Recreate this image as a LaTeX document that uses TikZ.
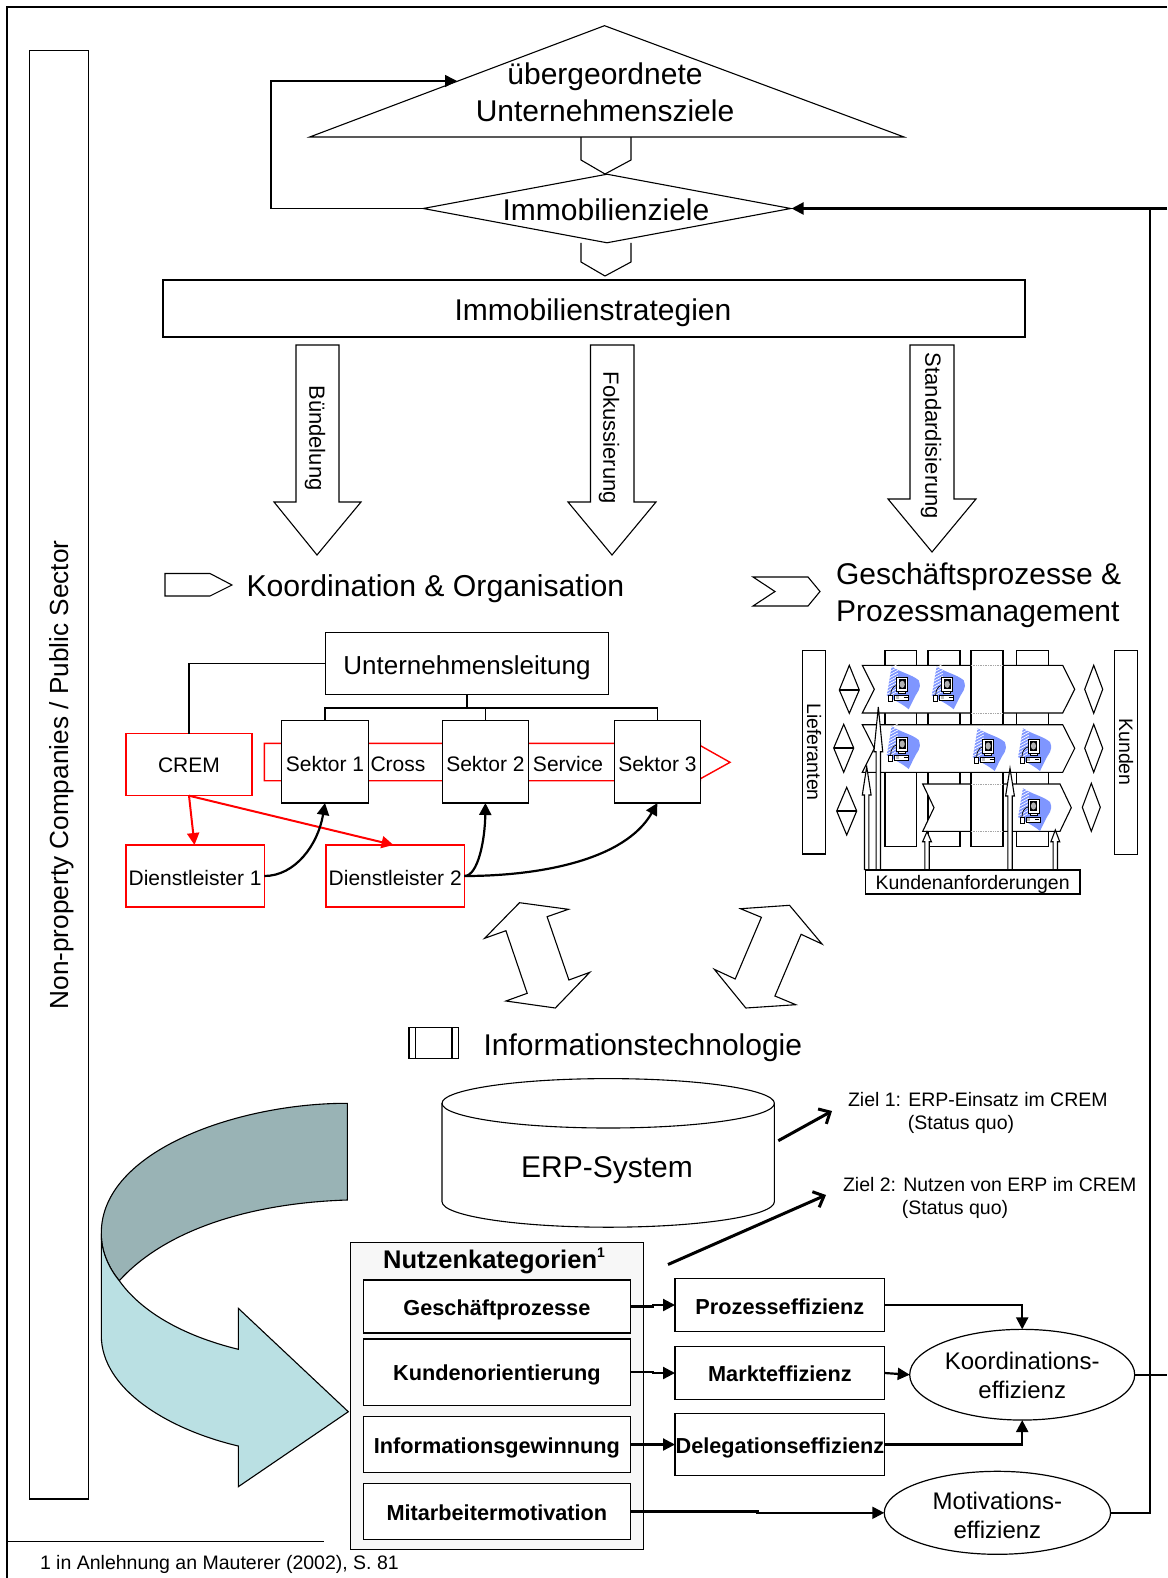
\documentclass[tikz,border=0pt]{standalone}
\usepackage{fontspec}
\setmainfont{Liberation Sans}
\usetikzlibrary{arrows.meta,shapes.geometric,calc}
\definecolor{tealdark}{HTML}{99B3B5}
\definecolor{teallight}{HTML}{BAE0E3}
\definecolor{blobblue}{HTML}{7F96FF}
\definecolor{panelgrey}{HTML}{F7F7F7}
\newcommand\fs[1]{\fontsize{#1}{36}\selectfont}
\newcommand\dn[2]{\raisebox{-#1pt}[\height][\depth]{#2}}
\newcommand\bx[7]{%
  \pgfmathsetmacro\bxw{#4-(#2)}\pgfmathsetmacro\bxh{#5-(#3)}%
  \pgfmathsetmacro\bxx{(#2+#4)/2}\pgfmathsetmacro\bxy{(#3+#5)/2}%
  \node[boxn,#6,minimum width=\bxw pt,minimum height=\bxh pt] (#1) at (\bxx,\bxy) {#7};}
\newcommand\hollow[3]{% x, tip y, head base y
  \draw[thinl,fill=white] ({#1-2.2},870) -- ({#1-2.2},#3) -- ({#1-4.4},#3) -- (#1,#2) -- ({#1+4.4},#3) -- ({#1+2.2},#3) -- ({#1+2.2},870);}
\newcommand\compicon[2]{%
  \begin{scope}[shift={(#1,#2)}]
    \fill[blobblue] (-10,-22) .. controls (-2,-16) and (10,-14) .. (17,-8) .. controls (19,-3) and (18,0) .. (17,2)
      .. controls (13,8) and (10,15) .. (7,21) .. controls (0,15) and (-8,12) .. (-15,7) .. controls (-13,-3) and (-12,-12) .. cycle;
    \foreach \k in {-21,-18,...,6} {\draw[white,line width=.7pt] (-15,\k+3) -- (-4,\k-3);}
    \draw[black,line width=.7pt] (-5,-3) .. controls (-9,-2) and (-11,2) .. (-11,7);
    \draw[black,fill=white,line width=.7pt] (-3,3) rectangle (4,5);
    \draw[black,fill=white,line width=.9pt] (-5,-11) rectangle (6,3);
    \fill[black] (-3,-9) rectangle (4,1);
    \fill[gray!60] (.5,-4) ellipse (2.6 and 3.6);
    \draw[black,fill=white,line width=.7pt] (-7,7) rectangle (7,12);
    \fill[gray!50] (-6,8) rectangle (-3,11);
    \draw[black,line width=1pt] (2,9.5) -- (6,9.5);
    \draw[black,fill=white,line width=.7pt] (-13,7.5) rectangle (-9,13);
  \end{scope}}
\tikzset{
  thinl/.style={line width=1.1pt},
  boxn/.style={draw,fill=white,line width=1.2pt,inner sep=0pt,outer sep=0pt,align=center},
  redbox/.style={draw=red,line width=1.4pt},
  plain/.style={inner sep=0pt,outer sep=0pt,align=center},
  conn/.style={line width=2.2pt},
  orgl/.style={line width=1.4pt},
  blacktip/.style={-{Triangle[length=12pt,width=12pt]}},
  redtip/.style={-{Triangle[length=12pt,width=12pt]},red,line width=2pt},
  barb/.style={-{Straight Barb[length=9pt,width=17pt]},line width=3pt},
}
\begin{document}
\begin{tikzpicture}[x=1pt,y=-1pt,line join=miter]
\useasboundingbox (0,0) rectangle (1167,1578);
% frame
\coordinate (fTR) at (1167,7);
\coordinate (fBL) at (7,1578);
\draw[line width=2pt] (fTR) -- (7,7) -- (fBL);
\coordinate (fnA) at (7,1541.5);
\coordinate (fnB) at (324,1541.5);
\draw[line width=1.8pt] (fnA) -- (fnB);
\node[plain,anchor=west,font=\fs{19.5}] (fn) at (40,1564) {1 in Anlehnung an Mauterer (2002), S. 81};
% sidebar
\bx{side}{29.3}{50.5}{88.5}{1499}{}{}
\node[plain,rotate=90,font=\fs{26.2}] (sidet) at (62,775) {Non-property Companies / Public Sector};
% pyramid
\draw[thinl,fill=white] (581,137) -- (581,160) -- (605,174) -- (631,160) -- (631,137);
\draw[thinl,fill=white] (581,243) -- (581,262) -- (605,276) -- (631,262) -- (631,243);
\draw[thinl,fill=white] (604.5,25.7) -- (904,137) -- (309.7,137) -- cycle;
\coordinate (triL) at (457,81);
\node[plain,font={\fontsize{30}{37}\selectfont}] (tritxt) at (605,92) {übergeordnete\\Unternehmensziele};
\node[diamond,draw,thinl,fill=white,inner sep=0pt,aspect=5.33,minimum width=368pt,minimum height=69pt] (ziele) at (607,208.5) {};
\node[plain,font=\fs{30}] (zielet) at (606,210) {Immobilienziele};
\coordinate (loopB) at (271,208.5);
\coordinate (loopT) at (271,81);
\draw[orgl,blacktip] (ziele.west) -- (loopB) -- (loopT) -- (triL);
\bx{strat}{163}{280}{1025}{337}{thinl}{}
\node[plain,font=\fs{30}] (stratt) at (593,313) {Immobilienstrategien};
% big arrows
\draw[thinl,fill=white] (296,345) -- (339,345) -- (339,502) -- (361,502) -- (317,555) -- (274,502) -- (296,502) -- cycle;
\draw[thinl,fill=white] (590.5,345) -- (634,345) -- (634,502) -- (656,502) -- (612,555) -- (568,502) -- (590.5,502) -- cycle;
\draw[thinl,fill=white] (910,345) -- (954,345) -- (954,499) -- (976,499) -- (932,552) -- (888,499) -- (910,499) -- cycle;
\node[plain,rotate=-90,font=\fs{22}] (t1) at (315,438) {Bündelung};
\node[plain,rotate=-90,font=\fs{22}] (t2) at (609,438) {Fokussierung};
\node[plain,rotate=-90,font=\fs{22}] (t3) at (931,436) {Standardisierung};
% headings
\draw[thinl] (165,573.5) -- (210,573.5) -- (232,585) -- (210,596) -- (165,596) -- cycle;
\node[plain,anchor=west,font=\fs{30.2}] (koh) at (246.5,589) {Koordination \& Organisation};
\draw[thinl] (753,577) -- (808,577) -- (820,591.5) -- (808,606) -- (753,606) -- (775,591.5) -- cycle;
\node[plain,anchor=west,align=left,font={\fontsize{30}{37}\selectfont}] (gph) at (836,595.5) {Geschäftsprozesse \&\\Prozessmanagement};
% organisation
\draw[red,line width=1.4pt,fill=white] (264.3,743.3) -- (700.5,743.3) -- (700.5,745.7) -- (730,762.3) -- (700.5,778.7) -- (700.5,780.7) -- (264.3,780.7) -- cycle;
\node[plain,font=\fs{21}] (cross) at (398,764) {Cross};
\node[plain,font=\fs{21}] (serv) at (568,764) {Service};
\bx{ul}{325.2}{632.7}{608.7}{694.7}{font=\fs{26}}{\dn{4}{Unternehmensleitung}}
\bx{crem}{126}{733.7}{252}{795.7}{redbox,font=\fs{21}}{\dn{1}{CREM}}
\bx{s1}{281.7}{720.7}{368.3}{803}{font=\fs{21}}{\dn{2}{Sektor 1}}
\bx{s2}{442.3}{720.7}{528.5}{803}{font=\fs{21}}{\dn{2}{Sektor 2}}
\bx{s3}{614.3}{720.7}{700.5}{803}{font=\fs{21}}{\dn{2}{Sektor 3}}
\bx{d1}{126}{845}{264.3}{907}{redbox,font=\fs{21}}{\dn{2}{Dienstleister 1}}
\bx{d2}{326}{845}{464.4}{907}{redbox,font=\fs{21}}{\dn{2}{Dienstleister 2}}
\coordinate (bus) at (466.8,708);
\draw[orgl] (crem.north) |- (ul.west);
\draw[orgl] (ul.south -| bus) -- (bus);
\draw[orgl] (s1.north) -- (s1.north |- bus) -- (s3.north |- bus) -- (s3.north);
\draw[orgl] (s2.north) -- (s2.north |- bus);
\draw[redtip] (crem.south) -- (194.5,845);
\draw[redtip] (crem.south) -- (393.5,845);
\draw[conn,blacktip] (d1.east) .. controls (295,876) and (318,845) .. (s1.south);
\draw[conn,blacktip] (d2.east) .. controls (478,876) and (485,840) .. (s2.south);
\draw[conn,blacktip] (d2.east) .. controls (540,876) and (625,860) .. (s3.south);
% process map
\bx{lief}{802.3}{650.3}{825.7}{854}{}{}
\node[plain,rotate=-90,font=\fs{19.5}] (lieft) at (814,752) {Lieferanten};
\bx{kund}{1114.3}{650.3}{1137.3}{854.7}{}{}
\node[plain,rotate=-90,font=\fs{19.5}] (kundt) at (1126,752) {Kunden};
\bx{c1}{885}{650.3}{916.7}{846.7}{thinl}{}
\bx{c2}{928}{650.3}{960}{846.7}{thinl}{}
\bx{c4}{1016.7}{650.3}{1048.7}{846.7}{thinl}{}
\draw[thinl,fill=white] (862.3,665.3) -- (1062.7,665.3) -- (1074.7,689.3) -- (1062.7,713) -- (862.3,713) -- (874.3,689.3) -- cycle;
\draw[thinl,fill=white] (922.7,784) -- (1060,784) -- (1071.3,807.7) -- (1060,831.3) -- (922.7,831.3) -- (934,807.7) -- cycle;
\bx{c3}{971}{650.3}{1003}{846.7}{thinl}{}
\foreach \yy in {665.3,713,784,831.3} {\draw[gray!70,densely dotted,line width=.7pt] (971,\yy) -- (1003,\yy);}
\draw[thinl,fill=white] (862.3,724.7) -- (1062.7,724.7) -- (1074.7,748.3) -- (1062.7,772.3) -- (862.3,772.3) -- (874.3,748.3) -- cycle;
% diamonds
\draw[thinl,fill=white] (849.3,665.3) -- (859.3,690) -- (849.3,713.3) -- (839.3,690) -- cycle;
\draw[line width=1.4pt] (839.3,690) -- (859.3,690);
\draw[thinl,fill=white] (843.7,724.3) -- (853.7,748) -- (843.7,772.3) -- (833.7,748) -- cycle;
\draw[line width=1.4pt] (833.7,748) -- (853.7,748);
\draw[thinl,fill=white] (846.7,787.3) -- (856.7,811) -- (846.7,835) -- (836.7,811) -- cycle;
\draw[line width=1.4pt] (836.7,811) -- (856.7,811);
\draw[thinl,fill=white] (1093.7,665.3) -- (1102.7,689.3) -- (1093.7,713.3) -- (1084.7,689.3) -- cycle;
\draw[thinl,fill=white] (1093.7,724.3) -- (1102.7,748.3) -- (1093.7,772.3) -- (1084.7,748.3) -- cycle;
\draw[thinl,fill=white] (1091.3,783.3) -- (1100.3,807.3) -- (1091.3,831.3) -- (1082.3,807.3) -- cycle;
% icons
\compicon{901.7}{688.3}
\compicon{946.7}{688.3}
\compicon{901.7}{748}
\compicon{987.7}{750}
\compicon{1033}{750}
\compicon{1033}{810}
% requirement arrows
\hollow{866.7}{766.7}{795}
\hollow{878.3}{707}{751.7}
\hollow{927}{831.7}{841.7}
\hollow{1010}{768.3}{796}
\hollow{1055.3}{830}{841.7}
\bx{req}{865.3}{870}{1080}{894}{font=\fs{19.5}}{\dn{2}{Kundenanforderungen}}
% double arrows
\draw[thinl,fill=white] (519.5,902.7) -- (568.4,909.3) -- (547.1,916.7) -- (568.9,980) -- (589.8,972.3) -- (555.3,1008) -- (505.9,1001) -- (527.2,993.3) -- (505.9,930.7) -- (484.6,938.3) -- cycle;
\draw[thinl,fill=white] (789.5,905.3) -- (822,944) -- (801.1,934.3) -- (774.9,996) -- (795.8,1004.7) -- (745.8,1008) -- (714.3,969.3) -- (735.2,979) -- (761.4,917.3) -- (740.5,908.7) -- cycle;
% IT
\draw[thinl] (409,1027.7) rectangle (458.4,1058.3);
\draw[thinl] (415.7,1027.7) -- (415.7,1058.3) (452,1027.7) -- (452,1058.3);
\node[plain,anchor=west,font=\fs{30}] (ith) at (483.6,1048) {Informationstechnologie};
% cylinder
\draw[thinl,fill=white] (442,1103.3) -- (442,1201.7) arc[start angle=180,end angle=0,x radius=166.2,y radius=25.5] -- (774.4,1103.3) arc[start angle=0,end angle=-180,x radius=166.2,y radius=24.7] -- cycle;
\draw[thinl] (442,1103.3) arc[start angle=180,end angle=0,x radius=166.2,y radius=24.7];
\node[plain,font=\fs{30}] (erp) at (607,1170) {ERP-System};
% goals
\node[plain,anchor=west,font=\fs{19.5}] (z1a) at (848,1100) {Ziel 1: ERP-Einsatz im CREM};
\node[plain,font=\fs{19.5}] (z1b) at (961,1124) {(Status quo)};
\node[plain,anchor=west,font=\fs{19.5}] (z2a) at (843,1184.5) {Ziel 2: Nutzen von ERP im CREM};
\node[plain,font=\fs{19.5}] (z2b) at (955,1209) {(Status quo)};
\coordinate (z1s) at (778.3,1140.7);
\coordinate (z1e) at (832,1111);
\coordinate (z2s) at (668,1264.5);
\coordinate (z2e) at (826,1195);
\draw[barb] (z1s) -- (z1e);
\draw[barb] (z2s) -- (z2e);
% swoosh
\draw[thinl,fill=tealdark] (347.3,1103.3) .. controls (240,1103) and (101,1150) .. (101.3,1233.3) .. controls (101,1250) and (108,1267) .. (119.3,1280.7) .. controls (165,1230) and (250,1203) .. (347.3,1200) -- cycle;
\draw[thinl,fill=teallight] (101.3,1233.3) -- (101.3,1335) .. controls (101,1390) and (170,1430) .. (238.3,1446) -- (238.3,1486.7) -- (348.3,1411.7) -- (238.3,1308.3) -- (238.3,1349.3) .. controls (180,1335) and (140,1310) .. (119.3,1280.7) .. controls (108,1267) and (101,1250) .. cycle;
% benefits
\bx{nutz}{350.5}{1242.7}{643.3}{1549.3}{fill=panelgrey}{}
\node[plain,font={\fs{25.5}\bfseries}] (nutzt) at (494,1261) {Nutzenkategorien\raisebox{.45em}{\fontsize{14}{14}\selectfont 1}};
\bx{b1}{363.2}{1280}{630.6}{1333}{font={\fs{21.7}\bfseries}}{\dn{3}{Geschäftprozesse}}
\bx{b2}{363.2}{1339}{630.6}{1405.7}{font={\fs{21.7}\bfseries}}{\dn{3}{Kundenorientierung}}
\bx{b3}{363.2}{1416.3}{630.6}{1472.7}{font={\fs{21.7}\bfseries}}{\dn{3}{Informationsgewinnung}}
\bx{b4}{363.2}{1483.3}{630.6}{1539.7}{font={\fs{21.7}\bfseries}}{\dn{1}{Mitarbeitermotivation}}
\bx{r1}{675}{1278.7}{884.8}{1331.3}{font={\fs{21.7}\bfseries}}{\dn{2}{Prozesseffizienz}}
\bx{r2}{675}{1346.3}{884.8}{1399.7}{font={\fs{21.7}\bfseries}}{\dn{1}{Markteffizienz}}
\bx{r3}{675}{1413.3}{884.8}{1475.7}{font={\fs{21.7}\bfseries}}{\dn{3}{Delegationseffizienz}}
\node[ellipse,draw,fill=white,line width=1.2pt,inner sep=0pt,outer sep=0pt,minimum width=225pt,minimum height=90.7pt,align=center,font={\fontsize{24}{29}\selectfont}] (ek) at (1022.2,1374.7) {\dn{1}{Koordinations-}\\\dn{1}{effizienz}};
\node[ellipse,draw,fill=white,line width=1.2pt,inner sep=0pt,outer sep=0pt,minimum width=226.3pt,minimum height=83pt,align=center,font={\fontsize{24}{29}\selectfont}] (em) at (997.4,1512.8) {\dn{3}{Motivations-}\\\dn{3}{effizienz}};
\draw[conn,blacktip] (b1.east) -| ($(b1.east)!.5!(r1.west)$) |- (r1.west);
\draw[conn,blacktip] (b2.east) -| ($(b2.east)!.5!(r2.west)$) |- (r2.west);
\draw[conn,blacktip] (b3.east) -| ($(b3.east)!.5!(r3.west)$) |- (r3.west);
\draw[conn,blacktip] (b4.east) -| ($(b4.east)!.5!(em.west)$) |- (em.west);
\draw[conn,blacktip] (r1.east) -| (ek.north);
\draw[conn,blacktip] (r2.east) -- (ek.west);
\draw[conn,blacktip] (r3.east) -| (ek.south);
% feedback
\coordinate (fbR) at (1167,208.5);
\coordinate (fbK) at (1167,1374.7);
\coordinate (fbV) at (1150,1512.8);
\coordinate (fbT) at (1150,208.5);
\draw[conn,blacktip] (fbR) -- (ziele.east);
\draw[conn] (ek.east) -- (fbK);
\draw[conn] (em.east) -- (fbV) -- (fbT);
\end{tikzpicture}
\end{document}
